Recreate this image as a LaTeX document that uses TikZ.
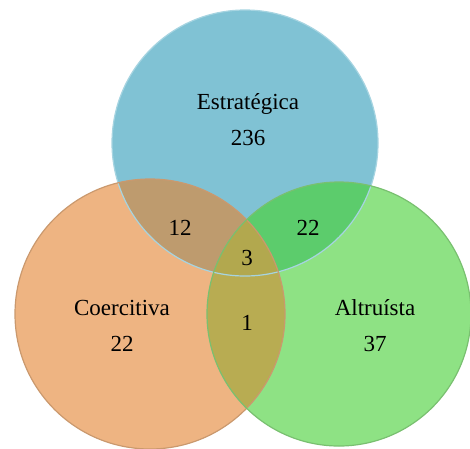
\documentclass[tikz,border=0pt]{standalone}
\usepackage{fontspec}
\setmainfont{Liberation Serif}
\definecolor{cblue}{RGB}{128,194,212}
\definecolor{corange}{RGB}{238,180,130}
\definecolor{cgreen}{RGB}{142,226,132}
\definecolor{cbo}{RGB}{190,155,110}
\definecolor{cbg}{RGB}{92,204,108}
\definecolor{cog}{RGB}{184,172,82}
\definecolor{call}{RGB}{178,168,78}
\tikzset{lbl/.style={font=\fontsize{23}{36}\selectfont, align=center, text=black, inner sep=0pt},
  rim/.style={line width=1.2pt}}
\begin{document}
\begin{tikzpicture}[x=1pt,y=-1pt]
\useasboundingbox (0,0) rectangle (470,448);
\clip (0,0) rectangle (470,448);
\def\cB{(245,143) circle[radius=133]}
\def\cO{(150,314) circle[radius=135]}
\def\cG{(339,314) circle[radius=132]}
\fill[cblue] \cB;
\fill[corange] \cO;
\fill[cgreen] \cG;
\begin{scope}\clip \cB; \fill[cbo] \cO; \fill[cbg] \cG; \end{scope}
\begin{scope}\clip \cO; \fill[cog] \cG; \end{scope}
\begin{scope}\clip \cB; \clip \cO; \fill[call] \cG; \end{scope}
\draw[rim, cblue!70!white] \cB;
\draw[rim, corange!85!black] \cO;
\draw[rim, cgreen!85!black] \cG;
\node[lbl] (est) at (248,120) {Estratégica\\236};
\node[lbl] (c12) at (180,228) {12};
\node[lbl] (c22a) at (308,228) {22};
\node[lbl] (c3) at (247,258) {3};
\node[lbl] (c1) at (247,323) {1};
\node[lbl] (coe) at (122,326) {Coercitiva\\22};
\node[lbl] (alt) at (375,326) {Altruísta\\37};
\end{tikzpicture}
\end{document}
